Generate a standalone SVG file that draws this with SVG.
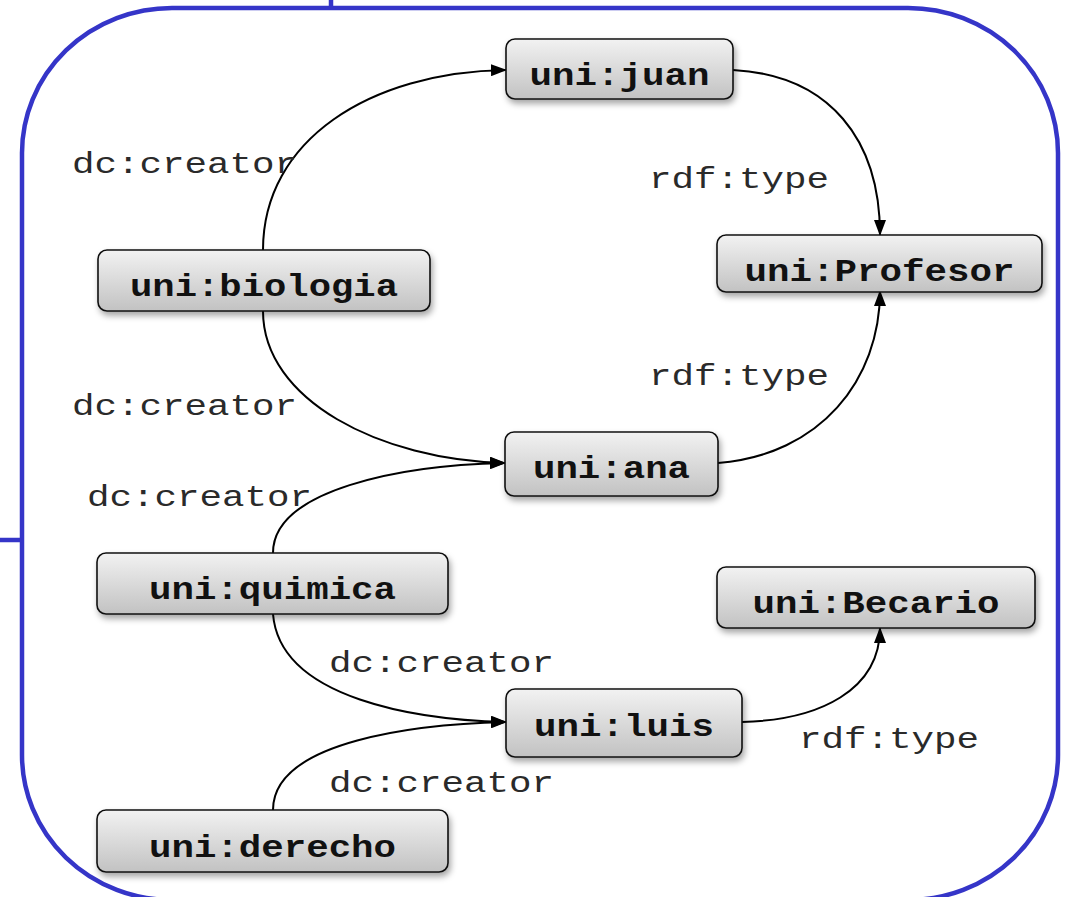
<svg xmlns="http://www.w3.org/2000/svg" width="1072" height="897" viewBox="0 0 1072 897">
<style>
.node rect{fill:url(#g);stroke:#111;stroke-width:1.6;filter:url(#sh)}
.node text{font-family:"Liberation Mono","Courier New",monospace;font-weight:bold;font-size:31px;fill:#111;text-anchor:middle}
.lbl{font-family:"Liberation Mono","Courier New",monospace;font-size:30px;fill:#2a2a2a}
.conn path{fill:none;stroke:#000;stroke-width:2;marker-end:url(#ah)}
.frame{fill:none;stroke:#3535c8;stroke-width:4.5}
</style>
<defs>
<linearGradient id="g" x1="0" y1="0" x2="0" y2="1">
<stop offset="0" stop-color="#f2f2f2"/>
<stop offset="1" stop-color="#c2c2c2"/>
</linearGradient>
<filter id="sh" x="-10%" y="-20%" width="125%" height="160%">
<feDropShadow dx="2" dy="4" stdDeviation="3" flood-color="#000" flood-opacity="0.35"/>
</filter>
<marker id="ah" viewBox="0 0 16 12" refX="15" refY="6" markerWidth="16" markerHeight="12" markerUnits="userSpaceOnUse" orient="auto">
<path d="M0,0 L16,6 L0,12 z" fill="#000"/>
</marker>
</defs>
<g id="frame">
<rect class="frame" x="22" y="8" width="1036" height="892" rx="150" ry="145"/>
<line class="frame" x1="331" y1="0" x2="331" y2="8"/>
<line class="frame" x1="0" y1="540" x2="22" y2="540"/>
</g>
<g id="connectors" class="conn">
<path d="M263,250 C263,140 370,72 506,70"/>
<path d="M733,70 C830,75 880,140 880,235"/>
<path d="M263,311 C263,400 380,460 505,463"/>
<path d="M718,463 C820,455 880,380 880,291"/>
<path d="M273,553 C273,490 400,465 505,463"/>
<path d="M273,614 C280,700 420,720 506,722"/>
<path d="M273,810 C273,740 420,724 506,722"/>
<path d="M742,722 C820,720 880,690 880,628"/>
</g>
<g id="labels">
<text class="lbl" x="72" y="173" textLength="225" lengthAdjust="spacingAndGlyphs">dc:creator</text>
<text class="lbl" x="649" y="188" textLength="180" lengthAdjust="spacingAndGlyphs">rdf:type</text>
<text class="lbl" x="72" y="415" textLength="225" lengthAdjust="spacingAndGlyphs">dc:creator</text>
<text class="lbl" x="649" y="385" textLength="180" lengthAdjust="spacingAndGlyphs">rdf:type</text>
<text class="lbl" x="87" y="506" textLength="225" lengthAdjust="spacingAndGlyphs">dc:creator</text>
<text class="lbl" x="329" y="672" textLength="225" lengthAdjust="spacingAndGlyphs">dc:creator</text>
<text class="lbl" x="799" y="748" textLength="180" lengthAdjust="spacingAndGlyphs">rdf:type</text>
<text class="lbl" x="329" y="792" textLength="225" lengthAdjust="spacingAndGlyphs">dc:creator</text>
</g>
<g id="n-juan" class="node"><rect x="506" y="39" width="227" height="60" rx="9"/><text x="619.5" y="85" textLength="180" lengthAdjust="spacingAndGlyphs">uni:juan</text></g>
<g id="n-biologia" class="node"><rect x="98" y="250" width="332" height="61" rx="9"/><text x="264" y="296" textLength="268" lengthAdjust="spacingAndGlyphs">uni:biologia</text></g>
<g id="n-profesor" class="node"><rect x="717" y="235" width="325" height="57" rx="9"/><text x="879.5" y="281" textLength="270" lengthAdjust="spacingAndGlyphs">uni:Profesor</text></g>
<g id="n-ana" class="node"><rect x="505" y="432" width="213" height="64" rx="9"/><text x="611.5" y="478" textLength="157" lengthAdjust="spacingAndGlyphs">uni:ana</text></g>
<g id="n-quimica" class="node"><rect x="97" y="553" width="351" height="61" rx="9"/><text x="272.5" y="599" textLength="247" lengthAdjust="spacingAndGlyphs">uni:quimica</text></g>
<g id="n-becario" class="node"><rect x="717" y="567" width="318" height="61" rx="9"/><text x="876" y="613" textLength="247" lengthAdjust="spacingAndGlyphs">uni:Becario</text></g>
<g id="n-luis" class="node"><rect x="506" y="689" width="236" height="68" rx="9"/><text x="624" y="736" textLength="180" lengthAdjust="spacingAndGlyphs">uni:luis</text></g>
<g id="n-derecho" class="node"><rect x="97" y="810" width="351" height="62" rx="9"/><text x="272.5" y="857" textLength="247" lengthAdjust="spacingAndGlyphs">uni:derecho</text></g>
</svg>
